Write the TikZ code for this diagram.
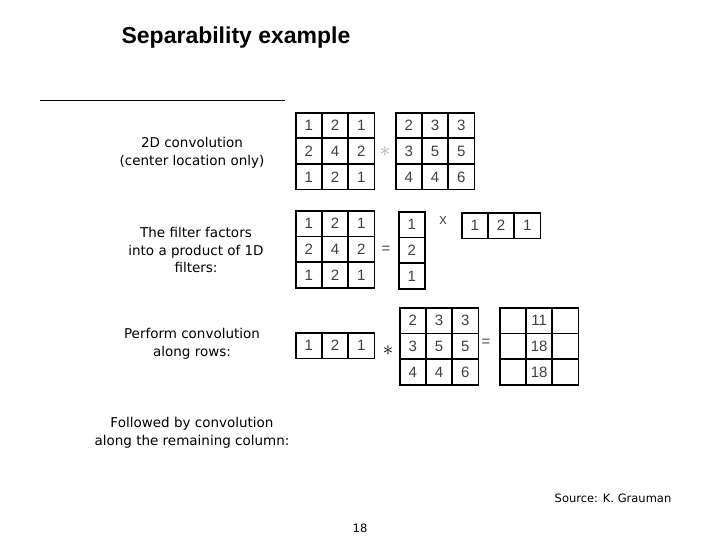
\documentclass[tikz,border=0pt]{standalone}
\usepackage{fontspec}
\setmainfont{Liberation Sans}
\newfontfamily\lblfont{DejaVu Sans}
\begin{document}
\begin{tikzpicture}[x=1pt,y=-1pt,
  cell/.style={draw,line width=1.6pt,minimum width=26pt,minimum height=25.5pt,inner sep=0pt,anchor=north west,font=\fontsize{15}{15}\selectfont,text=black!75},
  lbl/.style={align=center,font=\lblfont\fontsize{13.5}{17.5}\selectfont},
  op/.style={font=\fontsize{15}{15}\selectfont}]
\useasboundingbox (0,0) rectangle (720,540);
\node[font=\bfseries\fontsize{23}{23}\selectfont] (title) at (236,38) {Separability example};
\coordinate (l1) at (40,100); \coordinate (l2) at (285,100);
\draw[line width=0.8pt] (l1) -- (l2);
\newcommand\mygrid[4]{%
  \foreach \r [count=\i from 0] in {#4}{
    \foreach \v [count=\j from 0] in \r {
      \node[cell] (#3-\i-\j) at ({#1+\j*26.3},{#2+\i*25.7}) {\v};
    }}}
\mygrid{295}{112}{a}{{1,2,1},{2,4,2},{1,2,1}}
\mygrid{395}{112}{b}{{2,3,3},{3,5,5},{4,4,6}}
\mygrid{295}{210}{c}{{1,2,1},{2,4,2},{1,2,1}}
\mygrid{398}{211}{d}{{1},{2},{1}}
\mygrid{461}{212}{e}{{1,2,1}}
\mygrid{295}{332}{f}{{1,2,1}}
\mygrid{399}{307}{g}{{2,3,3},{3,5,5},{4,4,6}}
\mygrid{499}{307}{h}{{{},11,{}},{{},18,{}},{{},18,{}}}
\node[op,text=black!35,font=\fontsize{20}{20}\selectfont] (s1) at (385,152) {$*$};
\node[op,text=black!70] (e1) at (386,250) {=};
\node[op,text=black!70] (x1) at (443,221) {x};
\node[op,font=\bfseries\fontsize{22}{22}\selectfont] (s2) at (388,351) {$*$};
\node[op,text=black!70] (e2) at (486,343) {=};
\node[lbl] (t1) at (192,153) {2D convolution\\(center location only)};
\node[lbl] (t2) at (196,250) {The filter factors\\into a product of 1D\\filters:};
\node[lbl] (t3) at (192,344) {Perform convolution\\along rows:};
\node[lbl] (t4) at (192,433) {Followed by convolution\\along the remaining column:};
\node[font=\lblfont\fontsize{11.5}{12}\selectfont] (src) at (613,498) {Source: K. Grauman};
\node[font=\lblfont\fontsize{11.5}{12}\selectfont] (pg) at (360,528) {18};
\end{tikzpicture}
\end{document}
